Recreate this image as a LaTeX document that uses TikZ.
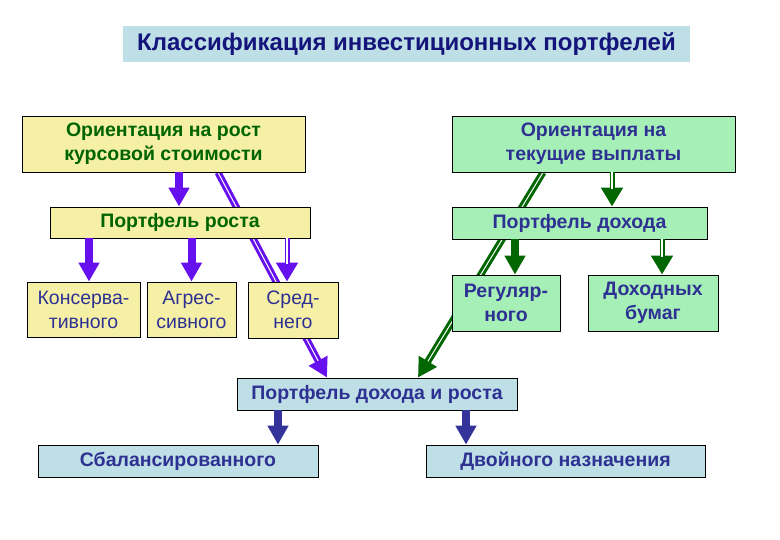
\documentclass[tikz,border=0pt]{standalone}
\usepackage{fontspec}
\setmainfont{Liberation Sans}
\usetikzlibrary{arrows.meta,backgrounds}
\definecolor{ylw}{HTML}{F6F0A6}
\definecolor{grn}{HTML}{A6F0B8}
\definecolor{lblue}{HTML}{BEDFE6}
\definecolor{navy}{HTML}{2E3192}
\definecolor{titlenavy}{HTML}{14147A}
\definecolor{dgreen}{HTML}{006400}
\definecolor{purp}{HTML}{6610EE}
\definecolor{agreen}{HTML}{006600}
\definecolor{ablue}{HTML}{333399}
\begin{document}
\begin{tikzpicture}[x=1pt,y=-1pt,
  box/.style={draw=black,line width=0.9pt,inner sep=0pt,align=center,font=\fontsize{19.5}{24}\selectfont\bfseries},
  ybox/.style={box,fill=ylw,text=dgreen},
  ysmall/.style={box,fill=ylw,text=navy,font=\fontsize{19.5}{24}\selectfont},
  gbox/.style={box,fill=grn,text=navy},
  bbox/.style={box,fill=lblue,text=navy},
  solidarr/.style={draw=#1,line width=8pt,-{Triangle[width=20pt,length=19pt]}},
  dblarr/.style={draw=#1,line width=5pt,-{Triangle[width=21pt,length=19pt]},
     postaction={draw=white,line width=1.8pt,shorten >=18pt,-}},
  diagarr/.style={draw=#1,line width=7pt,-{Triangle[width=20pt,length=19pt]},
     postaction={draw=white,line width=1pt,shorten >=19pt,-}}
]
\useasboundingbox (0,0) rectangle (780,540);

\node[fill=lblue,inner sep=0pt,minimum width=567pt,minimum height=36pt,text=titlenavy,font=\fontsize{24}{28}\selectfont\bfseries] (title) at (406.5,44) {Классификация инвестиционных портфелей};

\node[ybox,minimum width=283pt,minimum height=56pt] (A) at (163.5,144) {Ориентация на рост\\курсовой стоимости};
\node[gbox,minimum width=283pt,minimum height=56pt] (B) at (593.5,144) {Ориентация на\\текущие выплаты};

\node[ybox,minimum width=260pt,minimum height=31pt] (R) at (180,222.5) {Портфель роста};
\node[gbox,minimum width=255pt,minimum height=32pt] (D) at (579.5,223) {Портфель дохода};

\node[ysmall,minimum width=113pt,minimum height=55pt] (K) at (83.5,309.5) {Консерва-\\тивного};
\node[ysmall,minimum width=89pt,minimum height=55pt] (Ag) at (191.5,309.5) {Агрес-\\сивного};
\node[ysmall,minimum width=90pt,minimum height=56pt] (S) at (293,310) {Сред-\\него};

\node[gbox,minimum width=108pt,minimum height=56pt] (Reg) at (506,303) {Регуляр-\\ного};
\node[gbox,minimum width=130pt,minimum height=56pt] (Dox) at (653,303) {Доходных\\бумаг};

\node[bbox,minimum width=280pt,minimum height=32pt] (DR) at (377,394) {Портфель дохода и роста};
\node[bbox,minimum width=280pt,minimum height=32pt] (Sb) at (178,461) {Сбалансированного};
\node[bbox,minimum width=279pt,minimum height=32pt] (Dv) at (565.5,461) {Двойного назначения};

\begin{scope}[on background layer]
  \draw[diagarr=purp] ([xshift=54.5pt]A.south) -- ([xshift=-50pt]DR.north);
  \draw[diagarr=agreen] ([xshift=-50.5pt]B.south) -- ([xshift=41pt]DR.north);
\end{scope}

\draw[solidarr=purp] ([xshift=-1pt]R.north |- A.south) -- ([xshift=-1pt]R.north);
\draw[solidarr=purp] ([xshift=5.5pt]K.north |- R.south) -- ([xshift=5.5pt]K.north);
\draw[solidarr=purp] (Ag.north |- R.south) -- (Ag.north);
\draw[dblarr=purp] ([xshift=-6pt]S.north |- R.south) -- ([xshift=-6pt]S.north);

\draw[dblarr=agreen] ([xshift=32.5pt]D.north |- B.south) -- ([xshift=32.5pt]D.north);
\draw[solidarr=agreen] ([xshift=9pt]Reg.north |- D.south) -- ([xshift=9pt]Reg.north);
\draw[dblarr=agreen] ([xshift=9pt]Dox.north |- D.south) -- ([xshift=9pt]Dox.north);

\draw[solidarr=ablue] ([xshift=100pt]Sb.north |- DR.south) -- ([xshift=100pt]Sb.north);
\draw[solidarr=ablue] ([xshift=-99.5pt]Dv.north |- DR.south) -- ([xshift=-99.5pt]Dv.north);
\end{tikzpicture}
\end{document}
